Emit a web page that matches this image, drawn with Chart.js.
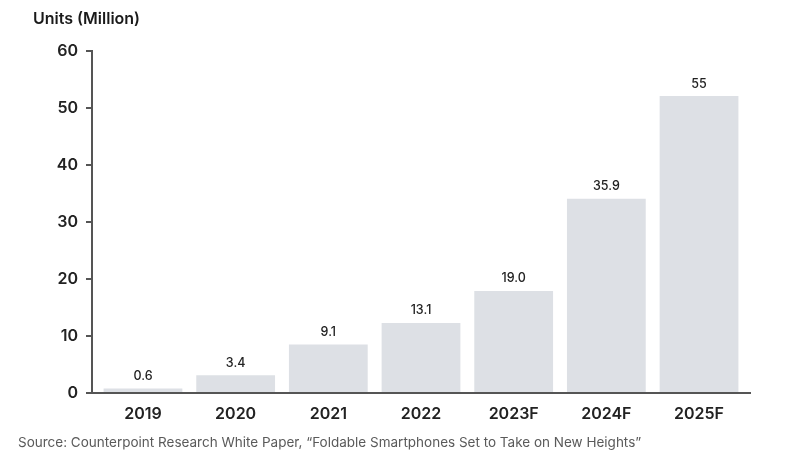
<!DOCTYPE html>
<html>
<head>
<meta charset="utf-8">
<script src="https://cdn.jsdelivr.net/npm/chart.js@4"></script>
<style>
  html, body { margin: 0; padding: 0; background: #fff; }
  #wrap { width: 800px; height: 474px; }
</style>
</head>
<body>
<div id="wrap"><canvas id="myChart" width="800" height="474"></canvas></div>
<script>
"use strict";

// values
const years = ['2019', '2020', '2021', '2022', '2023F', '2024F', '2025F'];
const barHeights = [0.8, 3.1, 8.5, 12.3, 17.9, 34.1, 52.1];
const barLabels = ['0.6', '3.4', '9.1', '13.1', '19.0', '35.9', '55'];
const yTicks = [0, 10, 20, 30, 40, 50, 60];

const fontFamily = 'Inter, Roboto, "Liberation Sans", sans-serif';

// title, labels on top of bars, source note
const extras = {
  id: 'extras',
  afterDatasetsDraw(chart) {
    const ctx = chart.ctx;
    const meta = chart.getDatasetMeta(0);
    ctx.save();
    ctx.fillStyle = '#222';
    ctx.font = '500 12.5px ' + fontFamily;
    ctx.textAlign = 'center';
    ctx.textBaseline = 'bottom';
    meta.data.forEach((bar, i) => {
      ctx.fillText(barLabels[i], bar.x, bar.y - 6);
    });

    ctx.textAlign = 'left';
    ctx.textBaseline = 'middle';
    ctx.font = '600 16px ' + fontFamily;
    ctx.fillStyle = '#1a1a1a';
    ctx.fillText('Units (Million)', 33, 19);

    ctx.font = '13.5px ' + fontFamily;
    ctx.fillStyle = '#5a5a5a';
    ctx.fillText('Source: Counterpoint Research White Paper, \u201cFoldable Smartphones Set to Take on New Heights\u201d', 18, 443);
    ctx.restore();
  }
};

const ctx = document.getElementById('myChart').getContext('2d');
const chart = new Chart(ctx, {
  type: 'bar',
  data: {
    datasets: [{
      data: barHeights.map((h, i) => ({ x: i, y: h })),
      backgroundColor: '#dde0e5',
      borderWidth: 0,
      barPercentage: 0.85,
      categoryPercentage: 1
    }]
  },
  options: {
    responsive: false,
    animation: false,
    layout: { padding: { top: 51, right: 50, bottom: 46, left: 0 } },
    plugins: {
      legend: { display: false },
      tooltip: { enabled: false }
    },
    scales: {
      x: {
        type: 'linear',
        min: -0.55,
        max: 6.55,
        offset: false,
        afterFit(scale) { scale.height = 35; },
        afterBuildTicks(scale) { scale.ticks = years.map((y, i) => ({ value: i })); },
        grid: { display: false },
        border: { display: true, color: '#555', width: 2 },
        ticks: {
          color: '#222',
          padding: 4,
          callback: v => years[v],
          font: { family: fontFamily, size: 16, weight: '600' }
        }
      },
      y: {
        min: 0,
        max: 60,
        afterFit(scale) { scale.width = 92; },
        afterBuildTicks(scale) { scale.ticks = yTicks.map(v => ({ value: v })); },
        grid: { drawOnChartArea: false, drawTicks: true, tickLength: 6, color: '#555', lineWidth: 2 },
        border: { display: true, color: '#555', width: 2 },
        ticks: {
          color: '#222',
          padding: 8,
          font: { family: fontFamily, size: 16, weight: '600' }
        }
      }
    }
  },
  plugins: [extras]
});
</script>
</body>
</html>
